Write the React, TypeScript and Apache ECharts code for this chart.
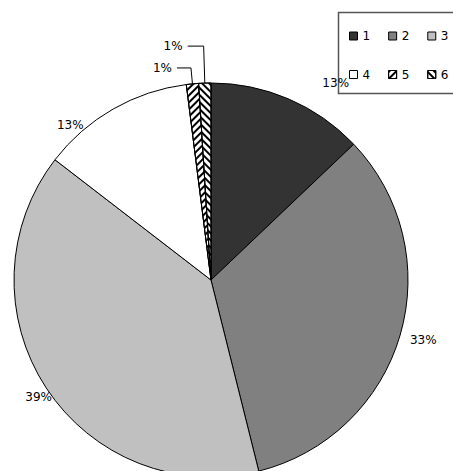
import React, { useEffect, useRef } from "react";
import * as echarts from "echarts";

const categories = ["1", "2", "3", "4", "5", "6"];
const shares = [12.9, 33.2, 39.35, 12.55, 1.0, 1.0];
const legendRowA = ["1", "2", "3"];
const legendRowB = ["4", "5", "6"];

const FONT = 'Verdana, "DejaVu Sans", sans-serif';

const fills = ["#333333", "#808080", "#c0c0c0", "#ffffff", "#ffffff", "#ffffff"];

// Hatched fills for the two thin wedges
const hatchA = {
  symbol: "rect",
  symbolSize: 1,
  dashArrayX: [1, 0],
  dashArrayY: [2, 3],
  rotation: -Math.PI / 4,
  color: "#000000",
  backgroundColor: "#ffffff",
};
const hatchB = {
  symbol: "rect",
  symbolSize: 1,
  dashArrayX: [1, 0],
  dashArrayY: [2, 3],
  rotation: Math.PI / 4,
  color: "#000000",
  backgroundColor: "#ffffff",
};

// label offsets (dx, dy) for the wedges without leader lines
const nudges: Record<number, [number, number]> = {
  0: [0, 0],
  1: [0, 4],
  2: [15, 6],
  3: [-22, 20],
};

export default function App() {
  const ref = useRef<HTMLDivElement>(null);

  useEffect(() => {
    document.body.style.margin = "0";
    const chart = echarts.init(ref.current!, null, { renderer: "svg" });

    const data = categories.map((name, i) => {
      const item: any = {
        name,
        value: shares[i],
        itemStyle: { color: fills[i] },
      };
      if (i === 4) item.itemStyle.decal = hatchA;
      if (i === 5) item.itemStyle.decal = hatchB;
      if (i === 0) item.labelLine = { show: false, length: 17, length2: 22 };
      if (i === 1) item.labelLine = { show: false, length: 5, length2: 0 };
      if (i === 2) item.labelLine = { show: false, length: 5, length2: 0 };
      if (i === 3) item.labelLine = { show: false, length: 5, length2: 0 };
      if (i === 4) item.labelLine = { show: true, length: 16, length2: 14 };
      if (i === 5) item.labelLine = { show: true, length: 37, length2: 16 };
      return item;
    });

    const legendBase = {
      icon: "rect",
      orient: "horizontal",
      itemWidth: 8,
      itemHeight: 8,
      itemGap: 18,
      padding: 0,
      width: 140,
      selectedMode: false,
      itemStyle: { borderColor: "#000", borderWidth: 1 },
      textStyle: { fontFamily: FONT, fontSize: 12, color: "#000" },
    };

    chart.setOption({
      animation: false,
      backgroundColor: "#ffffff",
      graphic: [
        {
          type: "rect",
          shape: { x: 338.5, y: 12.5, width: 130, height: 81 },
          style: { fill: "#ffffff", stroke: "#555555", lineWidth: 1.5 },
          z: 0,
        },
      ],
      legend: [
        { ...legendBase, data: legendRowA, left: 349, top: 30 },
        { ...legendBase, data: legendRowB, left: 349, top: 68.5 },
      ],
      series: [
        {
          type: "pie",
          center: [211, 280],
          radius: 197,
          startAngle: 90,
          clockwise: true,
          avoidLabelOverlap: false,
          data,
          itemStyle: { borderColor: "#000000", borderWidth: 1 },
          emphasis: { disabled: true },
          label: {
            show: true,
            position: "outside",
            fontFamily: FONT,
            fontSize: 12,
            color: "#000000",
            formatter: (p: any) => `${Math.round(p.percent)}%`,
          },
          labelLine: {
            lineStyle: { color: "#000000", width: 1 },
            smooth: false,
          },
          labelLayout: (params: any) => {
            const n = nudges[params.dataIndex];
            if (!n) return {};
            return { dx: n[0], dy: n[1] };
          },
        },
      ],
    });

    return () => chart.dispose();
  }, []);

  return <div ref={ref} style={{ width: 453, height: 471 }} />;
}
